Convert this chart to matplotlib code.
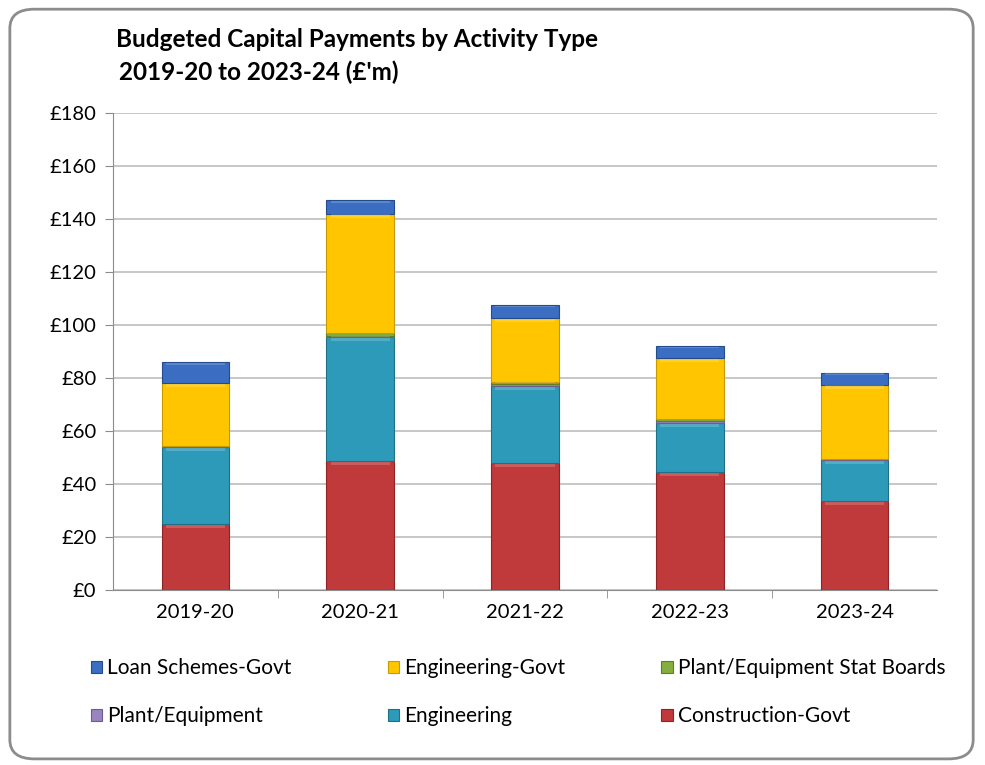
import matplotlib.pyplot as plt
from matplotlib.patches import FancyBboxPatch, Patch
import numpy as np

plt.rcParams['font.family'] = ['Lato', 'DejaVu Sans']

years = ['2019-20', '2020-21', '2021-22', '2022-23', '2023-24']

# budgeted payments, £m, stacked bottom to top
construction_govt = [24.8, 48.5, 48.0, 44.5, 33.5]
engineering = [29.0, 47.0, 29.0, 18.5, 15.5]
plant_equipment = [0.2, 0.5, 0.6, 0.6, 0.3]
plant_stat_boards = [0.2, 1.0, 1.0, 1.0, 0.3]
engineering_govt = [23.8, 45.0, 23.9, 22.9, 27.9]
loan_schemes_govt = [8.0, 5.0, 5.0, 4.5, 4.5]

y_ticks = [0, 20, 40, 60, 80, 100, 120, 140, 160, 180]

series = [
    ('Construction-Govt', construction_govt, '#C0393B', '#8E2426'),
    ('Engineering', engineering, '#2E9AB9', '#1F6F86'),
    ('Plant/Equipment', plant_equipment, '#9A84C0', '#6E5C8F'),
    ('Plant/Equipment Stat Boards', plant_stat_boards, '#86AE3C', '#5E7E27'),
    ('Engineering-Govt', engineering_govt, '#FFC600', '#C79A00'),
    ('Loan Schemes-Govt', loan_schemes_govt, '#3B6EC2', '#234C8C'),
]

fig = plt.figure(figsize=(9.85, 7.65), dpi=100)

# rounded chart border
frame = FancyBboxPatch((0.010, 0.008), 0.978, 0.980,
                       boxstyle='round,pad=0,rounding_size=0.025',
                       transform=fig.transFigure, facecolor='white',
                       edgecolor='#8C8C8C', linewidth=2, zorder=-1)
fig.patches.append(frame)

ax = fig.add_axes([0.1147, 0.2288, 0.8365, 0.6235])
ax.set_facecolor('none')

x = np.arange(len(years))
bottom = np.zeros(len(years))
handles = {}
for name, vals, color, edge in series:
    vals = np.array(vals)
    ax.bar(x, vals, width=0.41, bottom=bottom, color=color,
           edgecolor=edge, linewidth=0.8, zorder=3)
    # light bevel along the top of each block
    bev = np.minimum(vals * 0.12, 1.2)
    ax.bar(x, bev, width=0.36, bottom=bottom + vals - bev - 0.3,
           color='white', alpha=0.18, linewidth=0, zorder=4)
    bottom += vals
    handles[name] = Patch(facecolor=color, edgecolor=edge, linewidth=0.8)

ax.set_xlim(-0.5, len(years) - 0.5)
ax.set_ylim(0, 180)
ax.set_yticks(y_ticks)
ax.set_yticklabels([f'£{v}' for v in y_ticks])
ax.set_xticks(x)
ax.set_xticklabels(years)
ax.set_xticks(np.arange(0.5, len(years) - 0.5), minor=True)
ax.tick_params(axis='x', which='major', length=0, pad=10, labelsize=14.5)
ax.tick_params(axis='x', which='minor', length=6, color='#8C8C8C')
ax.tick_params(axis='y', length=6, color='#8C8C8C', pad=6, labelsize=14.5)
ax.grid(axis='y', color='#BEBEBE', linewidth=1.2, zorder=0)
for side in ['top', 'right']:
    ax.spines[side].set_visible(False)
for side in ['left', 'bottom']:
    ax.spines[side].set_color('#8C8C8C')

fig.text(0.118, 0.948, 'Budgeted Capital Payments by Activity Type',
         fontsize=17.5, fontweight='bold', va='center')
fig.text(0.121, 0.905, "2019-20 to 2023-24 (£'m)",
         fontsize=17.5, fontweight='bold', va='center')

# legend laid out column by column
order = ['Loan Schemes-Govt', 'Plant/Equipment', 'Engineering-Govt',
         'Engineering', 'Plant/Equipment Stat Boards', 'Construction-Govt']
fig.legend([handles[n] for n in order], order, ncol=3,
           loc='upper left', bbox_to_anchor=(0.073, 0.164),
           frameon=False, fontsize=15, handlelength=0.55, handleheight=0.55,
           handletextpad=0.25, columnspacing=4.6, labelspacing=1.35)

fig.savefig('out.png', dpi=100)
